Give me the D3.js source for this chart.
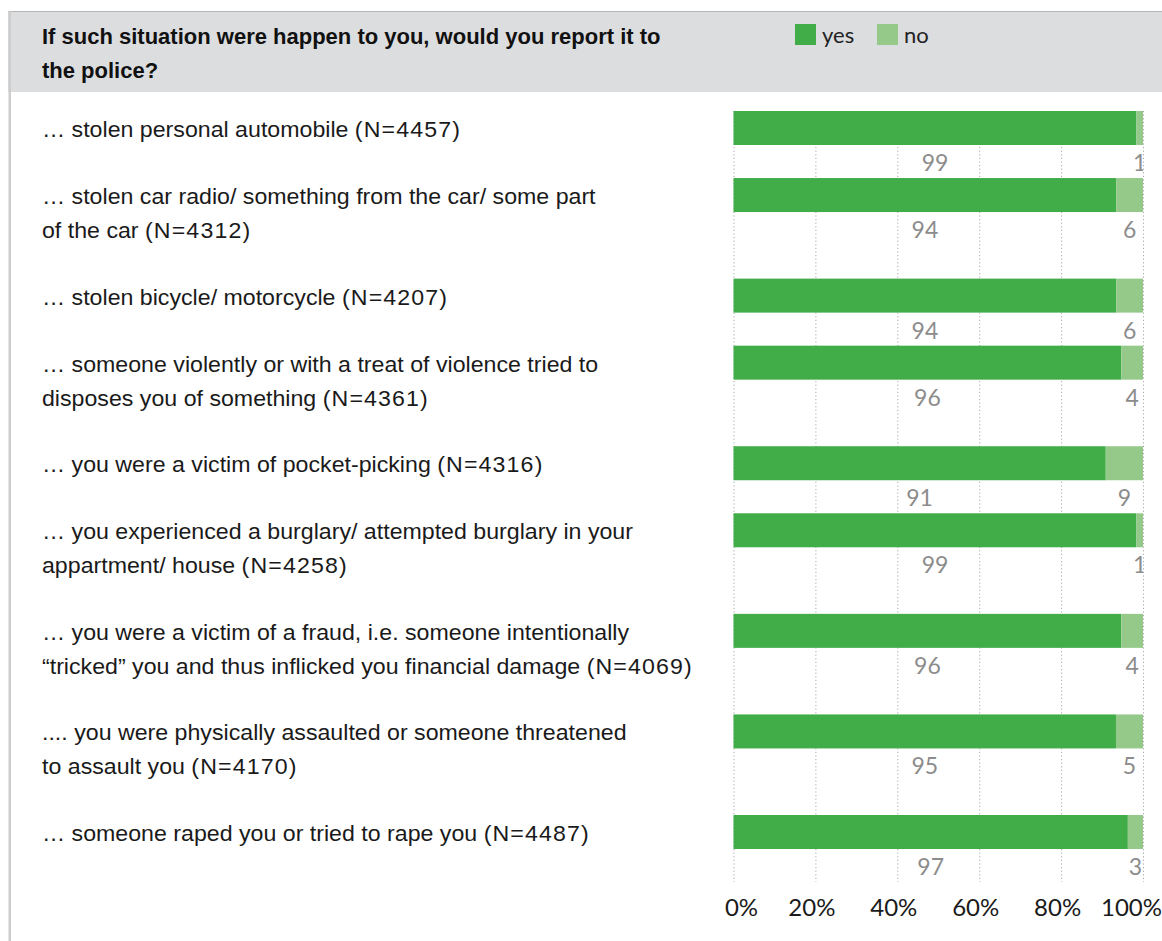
<!DOCTYPE html>
<html>
<head>
<meta charset="utf-8">
<script src="https://cdn.jsdelivr.net/npm/d3@7"></script>
<style>
  html, body { margin: 0; padding: 0; background: #ffffff; }
  svg { display: block; }
</style>
</head>
<body>
<svg id="chart" width="1162" height="941"></svg>
<script>
// ---------------- data ----------------
const titleLines = ["If such situation were happen to you, would you report it to", "the police?"];
const seriesNames = ["yes", "no"];
const categories = [
  ["\u2026 stolen personal automobile (N=4457)"],
  ["\u2026 stolen car radio/ something from the car/ some part", "of the car (N=4312)"],
  ["\u2026 stolen bicycle/ motorcycle (N=4207)"],
  ["\u2026 someone violently or with a treat of violence tried to", "disposes you of something (N=4361)"],
  ["\u2026 you were a victim of pocket-picking (N=4316)"],
  ["\u2026 you experienced a burglary/ attempted burglary in your", "appartment/ house (N=4258)"],
  ["\u2026 you were a victim of a fraud, i.e. someone intentionally", "\u201ctricked\u201d you and thus inflicked you financial damage (N=4069)"],
  [".... you were physically assaulted or someone threatened", "to assault you (N=4170)"],
  ["\u2026 someone raped you or tried to rape you (N=4487)"]
];
// bar shares as drawn (percent)
const yesShare = [98.4, 93.5, 93.5, 94.7, 90.9, 98.4, 94.7, 93.4, 96.3];
// value labels as printed
const yesLabels = [99, 94, 94, 96, 91, 99, 96, 95, 97];
const noLabels  = [1, 6, 6, 4, 9, 1, 4, 5, 3];
const tickValues = [0, 20, 40, 60, 80, 100];

// ---------------- style ----------------
const W = 1162, H = 941;
const colors = { yes: "#41ad49", no: "#95c98a" };
const narrow = "'Liberation Sans Narrow', 'Arial Narrow', 'Nimbus Sans Narrow', sans-serif";
const sans = "Lato, 'Noto Sans', sans-serif";

const svg = d3.select("#chart");

// header band
svg.append("rect").attr("x", 8).attr("y", 11).attr("width", W - 8).attr("height", 81).attr("fill", "#dcdddf");
svg.append("line").attr("x1", 8).attr("x2", W).attr("y1", 11.5).attr("y2", 11.5).attr("stroke", "#b4b4b4").attr("stroke-width", 1);
svg.append("rect").attr("x", 8.5).attr("y", 11).attr("width", 2.5).attr("height", H - 11).attr("fill", "#cdcdcd");

// title
const title = svg.append("text").attr("font-family", narrow).attr("font-weight", "bold")
  .attr("font-size", 22).attr("fill", "#111");
titleLines.forEach((t, i) => {
  title.append("tspan").attr("x", 42).attr("y", 44 + i * 34).text(t);
});

// legend
const legend = svg.append("g");
const legendX = { yes: 795, no: 877 };
seriesNames.forEach(s => {
  legend.append("rect").attr("x", legendX[s]).attr("y", 24).attr("width", 21).attr("height", 21).attr("fill", colors[s]);
  legend.append("text").attr("x", legendX[s] + 27).attr("y", 43).attr("font-family", sans)
    .attr("font-size", 22).attr("fill", "#222").text(s);
});

// scales
const x = d3.scaleLinear().domain([0, 100]).range([733.5, 1143]);
// row offsets depend on number of label lines
const units = [];
let acc = 0;
categories.forEach((c, i) => { units.push(acc); acc += 1 + (c.length - 1) * 0.5; });
const yUnit = d3.scaleLinear().domain([0, units[units.length - 1]]).range([111, 815]);
const barH = 34;

// gridlines (dotted)
const grid = svg.append("g").attr("transform", "translate(0,111)")
  .call(d3.axisBottom(x).tickValues(tickValues).tickSize(771).tickFormat(""));
grid.select(".domain").remove();
grid.selectAll(".tick line").attr("stroke", "#a8a8a8").attr("stroke-width", 1).attr("stroke-dasharray", "1.2,2.4");

// clip for plot area
svg.append("clipPath").attr("id", "plotclip").append("rect")
  .attr("x", x(0)).attr("y", 100).attr("width", x(100) - x(0)).attr("height", 800);

const rows = svg.append("g");
const labelsG = svg.append("g").attr("transform", "translate(42,0) scale(1.03,1) translate(-42,0)");
categories.forEach((lines, i) => {
  const y0 = yUnit(units[i]);
  const yes = yesShare[i];
  rows.append("rect").attr("x", x(0)).attr("y", y0).attr("width", x(yes) - x(0)).attr("height", barH).attr("fill", colors.yes);
  rows.append("rect").attr("x", x(yes)).attr("y", y0).attr("width", x(100) - x(yes)).attr("height", barH).attr("fill", colors.no);

  const lab = rows.append("g").attr("clip-path", "url(#plotclip)");
  lab.append("text").attr("x", (x(0) + x(yes)) / 2).attr("y", y0 + barH + 26)
    .attr("text-anchor", "middle").attr("font-family", sans).attr("font-size", 23).attr("fill", "#8c8c8c")
    .text(yesLabels[i]);
  lab.append("text").attr("x", (x(yes) + x(100)) / 2).attr("y", y0 + barH + 26)
    .attr("text-anchor", "middle").attr("font-family", sans).attr("font-size", 23).attr("fill", "#8c8c8c")
    .text(noLabels[i]);

  lines.forEach((l, j) => {
    const t = labelsG.append("text").attr("class", "catlabel").attr("font-family", narrow)
      .attr("font-size", 22.5).attr("fill", "#1a1a1a").attr("x", 42).attr("y", y0 + 26 + j * 34);
    const m = l.match(/^(.*?)(\(N=\d+\))$/);
    if (m) {
      t.append("tspan").text(m[1]);
      t.append("tspan").attr("letter-spacing", 1.1).text(m[2]);
    } else {
      t.text(l);
    }
  });
});

// axis labels
const axis = svg.append("g").attr("transform", "translate(0,916)")
  .call(d3.axisBottom(x).tickValues(tickValues).tickSize(0).tickPadding(0).tickFormat(d => d + "%"));
axis.select(".domain").remove();
axis.selectAll(".tick text").attr("font-family", sans).attr("font-size", 24).attr("fill", "#1a1a1a")
  .attr("dy", 0)
  .attr("dx", (d, i) => i === 0 ? 7.5 : (i === tickValues.length - 1 ? -12 : -4));
</script>
</body>
</html>
